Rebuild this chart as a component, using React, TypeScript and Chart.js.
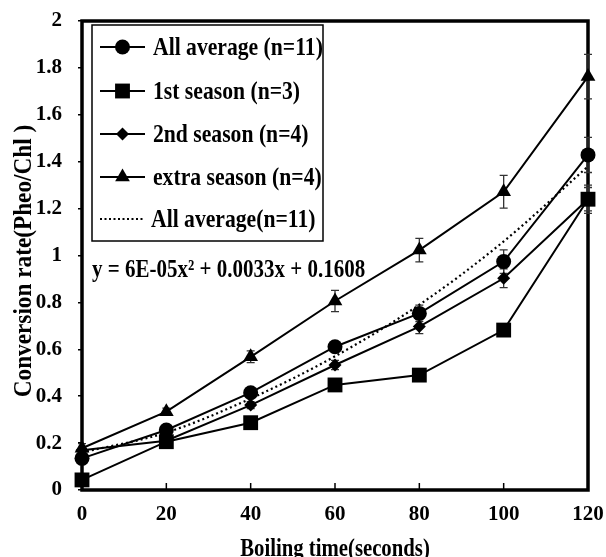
import React, { useEffect, useRef } from 'react';
import { Chart, registerables } from 'chart.js';

Chart.register(...registerables);

const FONT = "'Liberation Serif', 'Times New Roman', serif";

// ---- data ----
const xValues = [0, 20, 40, 60, 80, 100, 120];
const xTicks = [0, 20, 40, 60, 80, 100, 120];
const yTicks = [0, 0.2, 0.4, 0.6, 0.8, 1, 1.2, 1.4, 1.6, 1.8, 2];

const allAverage = [0.135, 0.256, 0.415, 0.611, 0.753, 0.974, 1.429];
const firstSeason = [0.043, 0.206, 0.287, 0.448, 0.49, 0.682, 1.24];
const secondSeason = [0.17, 0.21, 0.362, 0.533, 0.697, 0.903, 1.24];
const extraSeason = [0.178, 0.334, 0.568, 0.806, 1.023, 1.272, 1.763];
const trendValues = [0.16, 0.245, 0.39, 0.57, 0.79, 1.06, 1.38];

const allAverageErr = [0.02, 0.015, 0.02, 0.02, 0.035, 0.05, 0.075];
const firstSeasonErr = [0.01, 0.01, 0.01, 0.01, 0.015, 0.02, 0.06];
const secondSeasonErr = [0.01, 0.01, 0.015, 0.02, 0.03, 0.04, 0.05];
const extraSeasonErr = [0.02, 0.015, 0.025, 0.045, 0.05, 0.07, 0.095];

const seriesLabels = [
  'All average (n=11)',
  '1st season (n=3)',
  '2nd season (n=4)',
  'extra season (n=4)',
  'All average(n=11)',
];
const equationText = 'y = 6E-05x\u00B2 + 0.0033x + 0.1608';
const xTitle = 'Boiling time(seconds)';
const yTitle = 'Conversion rate(Pheo/Chl )';

// ---- marker styles ----
const markerStyles = [
  { style: 'circle', radius: 7.5 },
  { style: 'rect', radius: 10.5 },
  { style: 'rectRot', radius: 6.5 },
  { style: 'triangle', radius: 8.5 },
];

function drawMarker(ctx, style, r, x, y) {
  ctx.beginPath();
  if (style === 'circle') {
    ctx.arc(x, y, r, 0, Math.PI * 2);
  } else if (style === 'rect') {
    const s = Math.SQRT1_2 * r;
    ctx.rect(x - s, y - s, 2 * s, 2 * s);
  } else if (style === 'rectRot') {
    ctx.moveTo(x - r, y);
    ctx.lineTo(x, y - r);
    ctx.lineTo(x + r, y);
    ctx.lineTo(x, y + r);
    ctx.closePath();
  } else if (style === 'triangle') {
    let rad = 0;
    ctx.moveTo(x + Math.sin(rad) * r, y - Math.cos(rad) * r);
    rad += (2 * Math.PI) / 3;
    ctx.lineTo(x + Math.sin(rad) * r, y - Math.cos(rad) * r);
    rad += (2 * Math.PI) / 3;
    ctx.lineTo(x + Math.sin(rad) * r, y - Math.cos(rad) * r);
    ctx.closePath();
  }
  ctx.fill();
}

// text drawn with a tall, slightly condensed look (like the reference)
function drawText(ctx, text, x, y, sx, align, rotate = 0) {
  ctx.save();
  ctx.translate(x, y);
  if (rotate) ctx.rotate(rotate);
  ctx.scale(sx, 1);
  ctx.textAlign = align;
  ctx.textBaseline = 'alphabetic';
  ctx.fillText(text, 0, 0);
  ctx.restore();
}

const framePlugin = {
  id: 'frame',
  beforeDatasetsDraw(chart) {
    const { ctx, chartArea, scales } = chart;
    ctx.save();
    ctx.strokeStyle = '#000';
    ctx.lineWidth = 1.5;
    xTicks.forEach((v) => {
      const px = scales.x.getPixelForValue(v);
      ctx.beginPath();
      ctx.moveTo(px, chartArea.bottom);
      ctx.lineTo(px, chartArea.bottom - 7);
      ctx.stroke();
    });
    ctx.lineWidth = 3.5;
    ctx.strokeRect(chartArea.left, chartArea.top, chartArea.right - chartArea.left, chartArea.bottom - chartArea.top);
    ctx.restore();
  },
};

const errorSets = [
  { values: allAverage, errs: allAverageErr },
  { values: firstSeason, errs: firstSeasonErr },
  { values: secondSeason, errs: secondSeasonErr },
  { values: extraSeason, errs: extraSeasonErr },
];

const errorBarPlugin = {
  id: 'errorBars',
  beforeDatasetsDraw(chart) {
    const { ctx, scales } = chart;
    ctx.save();
    ctx.strokeStyle = '#333';
    ctx.lineWidth = 1.3;
    errorSets.forEach(({ values, errs }) => {
      xValues.forEach((xv, i) => {
        const px = scales.x.getPixelForValue(xv);
        const top = scales.y.getPixelForValue(values[i] + errs[i]);
        const bot = scales.y.getPixelForValue(values[i] - errs[i]);
        ctx.beginPath();
        ctx.moveTo(px, top);
        ctx.lineTo(px, bot);
        ctx.moveTo(px - 4, top);
        ctx.lineTo(px + 4, top);
        ctx.moveTo(px - 4, bot);
        ctx.lineTo(px + 4, bot);
        ctx.stroke();
      });
    });
    ctx.restore();
  },
};

const legendPlugin = {
  id: 'customLegend',
  afterDraw(chart) {
    const { ctx, chartArea } = chart;
    ctx.save();
    const boxL = 92, boxT = 25, boxR = 323, boxB = 241;
    ctx.fillStyle = '#fff';
    ctx.fillRect(boxL, boxT, boxR - boxL, boxB - boxT);
    ctx.strokeStyle = '#000';
    ctx.lineWidth = 1.5;
    ctx.strokeRect(boxL, boxT, boxR - boxL, boxB - boxT);
    const rows = [47, 91, 134, 177, 219];
    ctx.font = `bold 25px ${FONT}`;
    rows.forEach((ry, i) => {
      ctx.strokeStyle = '#000';
      ctx.fillStyle = '#000';
      if (i < 4) {
        ctx.lineWidth = 2;
        ctx.setLineDash([]);
        ctx.beginPath();
        ctx.moveTo(100, ry);
        ctx.lineTo(145, ry);
        ctx.stroke();
        drawMarker(ctx, markerStyles[i].style, markerStyles[i].radius, 122.5, ry);
        drawText(ctx, seriesLabels[i], 153, ry + 8, 0.866, 'left');
      } else {
        ctx.lineWidth = 2;
        ctx.setLineDash([2, 2.5]);
        ctx.beginPath();
        ctx.moveTo(100, ry);
        ctx.lineTo(143, ry);
        ctx.stroke();
        ctx.setLineDash([]);
        drawText(ctx, seriesLabels[i], 151, ry + 8, 0.866, 'left');
      }
    });
    ctx.fillStyle = '#000';
    drawText(ctx, equationText, 92, 277, 0.84, 'left');
    // axis titles
    const cx = (chartArea.left + chartArea.right) / 2;
    drawText(ctx, xTitle, cx, 556, 0.83, 'center');
    drawText(ctx, yTitle, 31, 261, 0.93, 'center', -Math.PI / 2);
    ctx.restore();
  },
};

export default function App() {
  const ref = useRef<HTMLCanvasElement>(null);
  useEffect(() => {
    const pts = (vals: number[]) => xValues.map((x, i) => ({ x, y: vals[i] }));
    const seriesData = [allAverage, firstSeason, secondSeason, extraSeason];
    const datasets: any[] = seriesData.map((vals, i) => ({
      label: seriesLabels[i],
      data: pts(vals),
      borderColor: '#000',
      backgroundColor: '#000',
      borderWidth: 2,
      pointStyle: markerStyles[i].style,
      pointRadius: markerStyles[i].radius,
      pointBorderWidth: 0,
      pointBackgroundColor: '#000',
      tension: 0,
      clip: false,
      order: 1,
    }));
    datasets.push({
      label: seriesLabels[4],
      data: pts(trendValues),
      borderColor: '#000',
      borderWidth: 2.2,
      borderDash: [2, 3],
      pointRadius: 0,
      cubicInterpolationMode: 'monotone',
      clip: false,
      order: 2,
    });

    const chart = new Chart(ref.current as HTMLCanvasElement, {
      type: 'line',
      data: { datasets },
      options: {
        animation: false,
        responsive: false,
        devicePixelRatio: 1,
        layout: { padding: { left: 0, right: 18, top: 21, bottom: 0 } },
        plugins: { legend: { display: false }, tooltip: { enabled: false } },
        scales: {
          x: {
            type: 'linear',
            min: 0,
            max: 120,
            afterBuildTicks: (scale: any) => {
              scale.ticks = xTicks.map((v) => ({ value: v }));
            },
            afterFit: (scale: any) => {
              scale.height = 67;
              scale.paddingLeft = 0;
              scale.paddingRight = 0;
            },
            grid: { display: false, drawTicks: false },
            border: { display: false },
            ticks: {
              padding: 12,
              color: '#000',
              maxRotation: 0,
              font: { family: FONT, size: 21, weight: 'bold' },
              callback: (v: any) => String(v),
            },
            title: { display: false },
          },
          y: {
            type: 'linear',
            min: 0,
            max: 2,
            afterBuildTicks: (scale: any) => {
              scale.ticks = yTicks.map((v) => ({ value: v }));
            },
            afterFit: (scale: any) => {
              scale.width = 82;
              scale.paddingTop = 0;
              scale.paddingBottom = 0;
            },
            grid: { display: true, drawOnChartArea: false, drawTicks: true, tickLength: 4, color: '#000', lineWidth: 1.5 },
            border: { display: false },
            ticks: {
              padding: 16,
              color: '#000',
              font: { family: FONT, size: 21, weight: 'bold' },
              callback: (v: any) => String(Math.round(Number(v) * 10) / 10),
            },
            title: { display: false },
          },
        },
      },
      plugins: [framePlugin, errorBarPlugin, legendPlugin],
    } as any);
    return () => chart.destroy();
  }, []);
  return (
    <div style={{ position: 'absolute', left: 0, top: 0, width: 606, height: 557, background: '#fff' }}>
      <canvas ref={ref} width={606} height={557} />
    </div>
  );
}
